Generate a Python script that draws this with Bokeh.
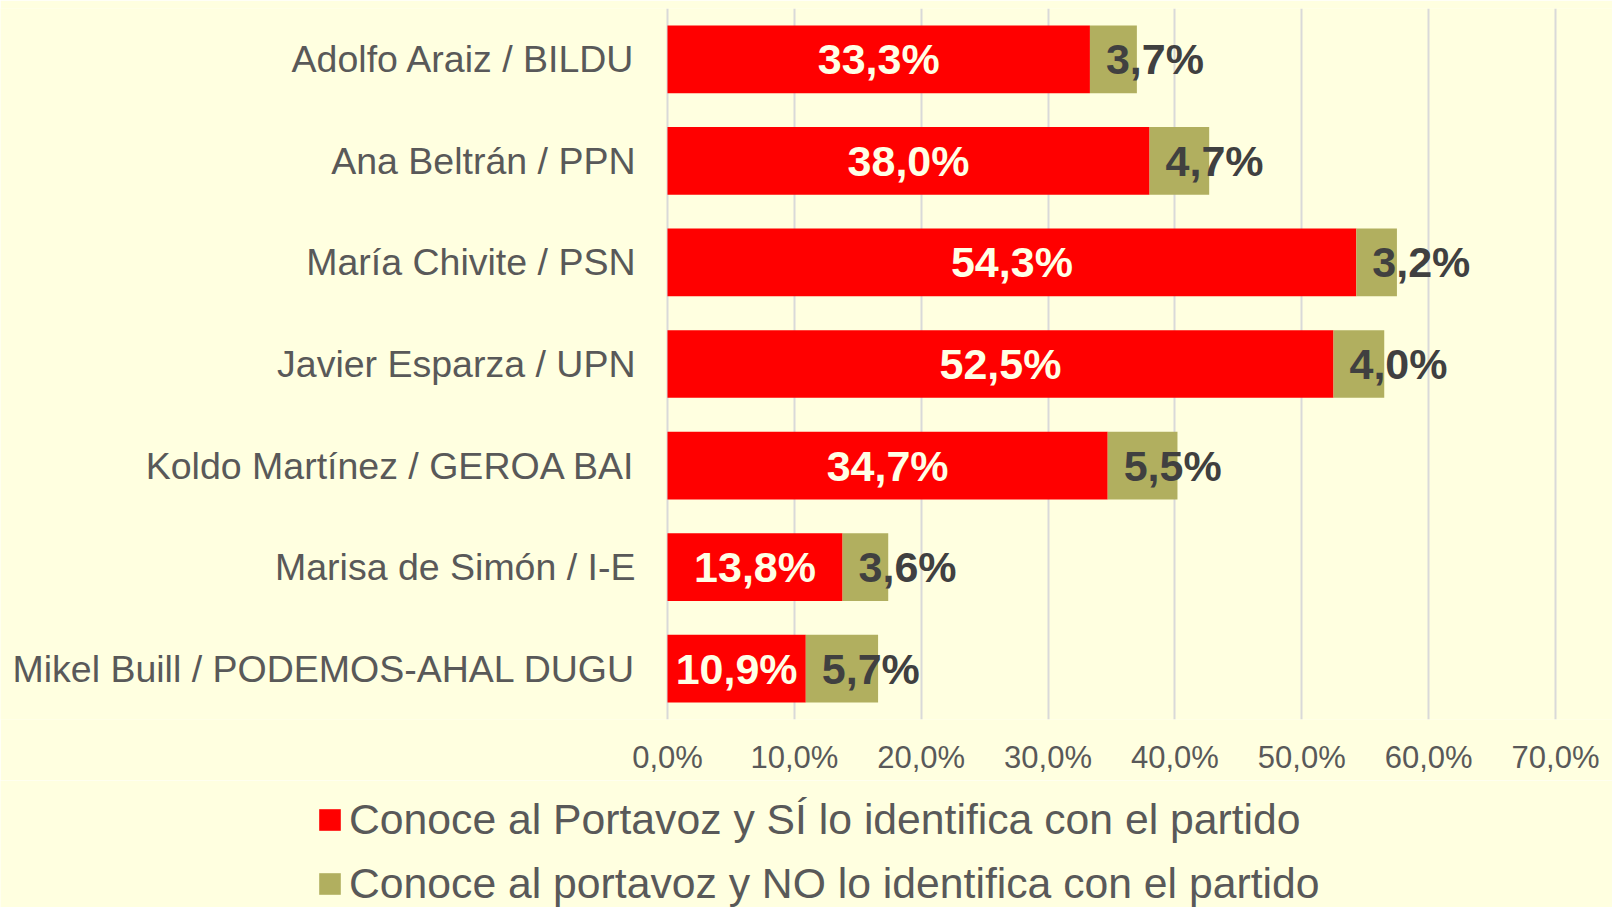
from bokeh.plotting import figure
from bokeh.layouts import column
from bokeh.models import Range1d, FactorRange, FixedTicker, Legend, LegendItem, ColumnDataSource
from bokeh.embed import file_html
from bokeh.resources import INLINE
from bokeh.core.properties import value

candidates = [
    "Adolfo Araiz / BILDU",
    "Ana Beltrán / PPN",
    "María Chivite / PSN",
    "Javier Esparza / UPN",
    "Koldo Martínez / GEROA BAI",
    "Marisa de Simón / I-E",
    "Mikel Buill / PODEMOS-AHAL DUGU",
]
conoce_si = [33.3, 38.0, 54.3, 52.5, 34.7, 13.8, 10.9]
conoce_no = [3.7, 4.7, 3.2, 4.0, 5.5, 3.6, 5.7]
x_ticks = [0, 10, 20, 30, 40, 50, 60, 70]
x_tick_labels = ["0,0%", "10,0%", "20,0%", "30,0%", "40,0%", "50,0%", "60,0%", "70,0%"]
series_names = [
    "Conoce al Portavoz y SÍ lo identifica con el partido",
    "Conoce al portavoz y NO lo identifica con el partido",
]

RED = "#FF0000"
OLIVE = "#B1AF5F"
BG = "#FFFFE0"
FONT = "Liberation Sans"

W = 1612
PLOT_LEFT, PLOT_RIGHT = 667, 1555      # pixel span of 0% .. 70%
px_per_unit = (PLOT_RIGHT - PLOT_LEFT) / (x_ticks[-1] - x_ticks[0])
x_start = x_ticks[0] - PLOT_LEFT / px_per_unit
x_end = x_ticks[-1] + (W - PLOT_RIGHT) / px_per_unit


def fmt(v):
    return f"{v:.1f}".replace(".", ",") + "%"


src = ColumnDataSource(dict(
    cat=candidates,
    si=conoce_si,
    total=[a + b for a, b in zip(conoce_si, conoce_no)],
    mid=[a / 2 for a in conoce_si],
    si_lbl=[fmt(v) for v in conoce_si],
    no_lbl=[fmt(v) for v in conoce_no],
    zero=[0] * len(candidates),
))

p = figure(
    y_range=FactorRange(factors=list(reversed(candidates))),
    x_range=Range1d(x_start, x_end),
    width=W, height=780,
    output_backend="svg", toolbar_location=None,
    y_axis_location=None,
    min_border_left=0, min_border_right=0, min_border_top=8, min_border_bottom=61,
    background_fill_color=BG, border_fill_color=BG,
    outline_line_color=None,
)

r1 = p.hbar(y="cat", left=0, right="si", height=0.667, fill_color=RED, line_color=None, source=src)
r2 = p.hbar(y="cat", left="si", right="total", height=0.667, fill_color=OLIVE, line_color=None, source=src)

# category labels (left of the 0% line)
p.text(x="zero", y="cat", text="cat", source=src, x_offset=-32, text_align="right", text_baseline="middle",
       text_font=value(FONT), text_font_size="37.5px", text_color="#595959")

p.text(x="mid", y="cat", text="si_lbl", source=src, text_align="center", text_baseline="middle",
       text_font=value(FONT), text_font_style="bold", text_font_size="43px", text_color="#FFFFE6")
p.text(x="si", y="cat", text="no_lbl", source=src, x_offset=16, text_align="left", text_baseline="middle",
       text_font=value(FONT), text_font_style="bold", text_font_size="43px", text_color="#404040")

# x axis
p.xaxis.ticker = FixedTicker(ticks=x_ticks)
p.xaxis.major_label_overrides = {t: l for t, l in zip(x_ticks, x_tick_labels)}
p.xaxis.axis_line_color = None
p.xaxis.major_tick_line_color = None
p.xaxis.minor_tick_line_color = None
p.xaxis.major_tick_out = 0
p.xaxis.major_label_standoff = 20
p.xaxis.major_label_text_font = FONT
p.xaxis.major_label_text_font_size = "31px"
p.xaxis.major_label_text_color = "#595959"

p.xgrid.ticker = FixedTicker(ticks=x_ticks)
p.xgrid.grid_line_color = "#D9D9D9"
p.xgrid.grid_line_width = 2
p.ygrid.grid_line_color = None

# legend panel below the chart (swatch renderers sit outside the visible range)
pl = figure(
    width=W, height=127, x_axis_type=None, y_axis_type=None,
    x_range=Range1d(0, 1), y_range=Range1d(0, 1),
    output_backend="svg", toolbar_location=None, min_border=0,
    background_fill_color=BG, border_fill_color=BG, outline_line_color=None,
)
l1 = pl.hbar(y=[-10], left=[0], right=[1], height=0.5, fill_color=RED, line_color=None)
l2 = pl.hbar(y=[-10], left=[0], right=[1], height=0.5, fill_color=OLIVE, line_color=None)
pl.grid.visible = False

legend = Legend(
    items=[LegendItem(label=series_names[0], renderers=[l1]),
           LegendItem(label=series_names[1], renderers=[l2])],
    location=(316, -1), orientation="vertical",
    glyph_width=27, glyph_height=27, label_standoff=6, spacing=15, label_height=49,
    padding=0, margin=0, border_line_color=None, background_fill_alpha=0,
    label_text_font=FONT, label_text_font_size="42.7px", label_text_color="#595959",
)
pl.add_layout(legend)

layout = column(p, pl, spacing=0)
open("out.html", "w").write(file_html(layout, INLINE))
